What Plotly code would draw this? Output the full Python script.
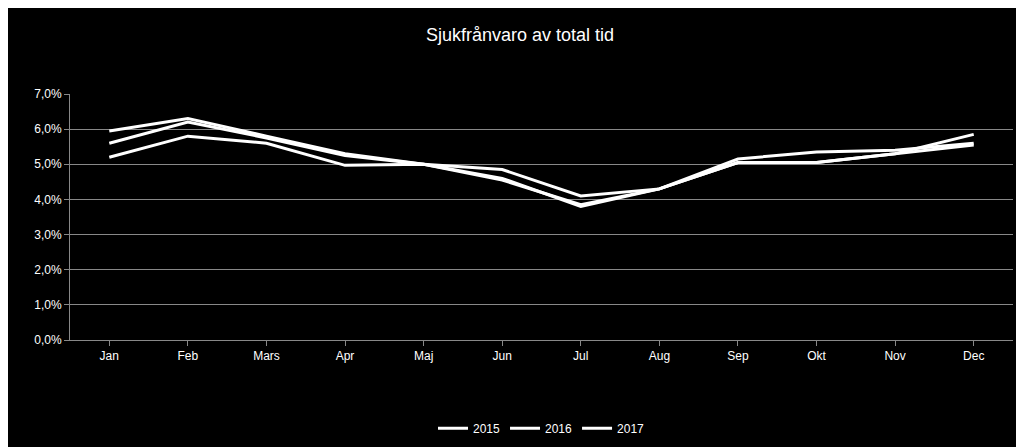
import plotly.graph_objects as go

months = ["Jan","Feb","Mars","Apr","Maj","Jun","Jul","Aug","Sep","Okt","Nov","Dec"]
s2015 = [5.20,5.80,5.60,4.97,5.00,4.85,4.10,4.30,5.05,5.05,5.30,5.55]
s2016 = [5.60,6.20,5.75,5.25,5.00,4.55,3.85,4.30,5.05,5.05,5.30,5.85]
s2017 = [5.95,6.30,5.80,5.30,5.00,4.60,3.80,4.30,5.15,5.35,5.40,5.60]
yticks = [0,1,2,3,4,5,6,7]
ylabels = ["0,0%","1,0%","2,0%","3,0%","4,0%","5,0%","6,0%","7,0%"]

fig = go.Figure()
for name, vals in [("2015", s2015), ("2016", s2016), ("2017", s2017)]:
    fig.add_trace(go.Scatter(x=months, y=vals, name=name, mode="lines",
                             line=dict(color="white", width=3)))
fig.update_layout(
    width=1024, height=447, paper_bgcolor="black", plot_bgcolor="black",
    margin=dict(l=62, r=19, t=86, b=115),
    title=dict(text="Sjukfrånvaro av total tid", x=0.5, y=0.955, xanchor="center",
               font=dict(family="Liberation Sans, Arial", size=18, color="white")),
    font=dict(family="Liberation Sans, Arial", size=12, color="white"),
    xaxis=dict(showgrid=False, showline=True, linecolor="#888", ticks="outside",
               tickcolor="#888", ticklen=5, range=[-0.5, 11.5]),
    yaxis=dict(range=[0,7], tickvals=yticks, ticktext=ylabels, showgrid=True,
               gridcolor="#888", gridwidth=1, showline=True, linecolor="#888",
               ticks="outside", tickcolor="#888", ticklen=5, zeroline=False),
    legend=dict(orientation="h", x=0.5, xanchor="center", y=-0.3, yanchor="top",
                font=dict(size=12, color="white")),
)
fig.write_html("out.html")
